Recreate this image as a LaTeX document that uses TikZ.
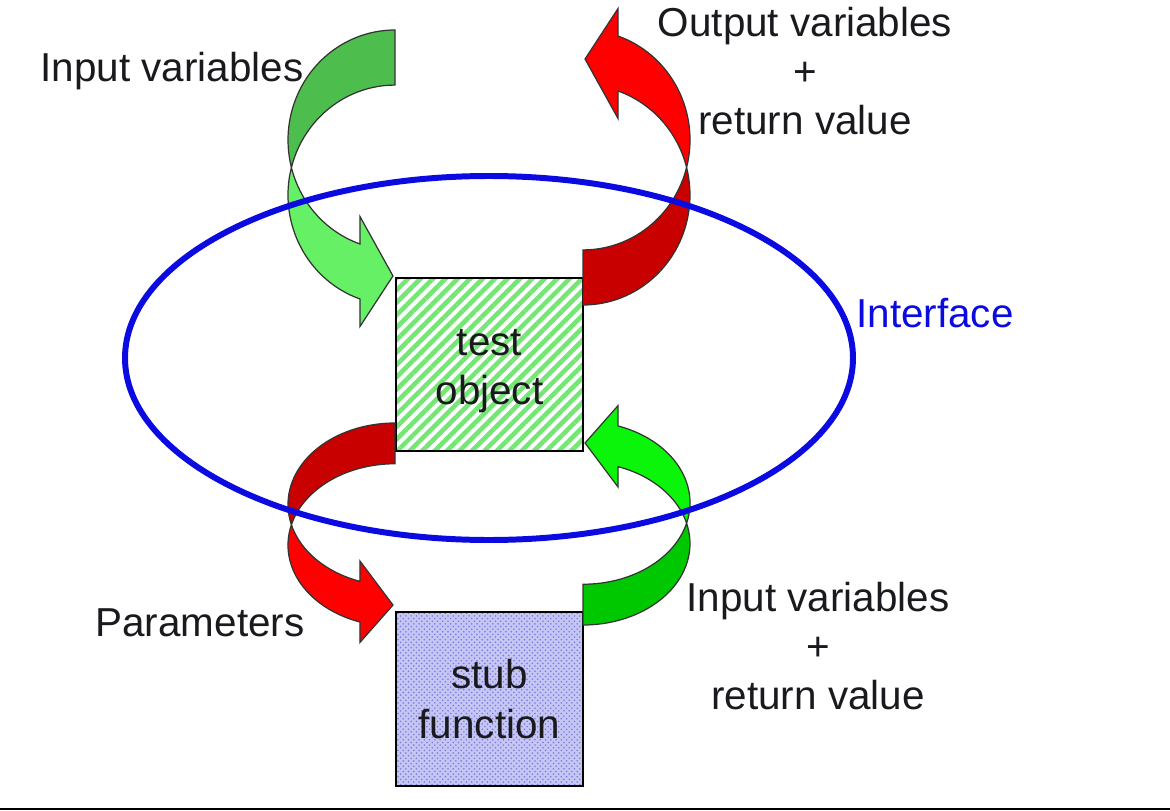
\documentclass[tikz,border=0pt]{standalone}
\usepackage{fontspec}
\setmainfont{Liberation Sans}
\usetikzlibrary{patterns, patterns.meta}

\definecolor{backgreen}{RGB}{77,190,77}
\definecolor{frontgreen}{RGB}{102,240,102}
\definecolor{darkgreen}{RGB}{0,200,0}
\definecolor{brightgreen}{RGB}{10,245,10}
\definecolor{darkred}{RGB}{200,0,0}
\definecolor{brightred}{RGB}{255,0,0}
\definecolor{stripegreen}{RGB}{115,230,115}
\definecolor{checkback}{RGB}{198,198,244}
\definecolor{checkblue}{RGB}{120,120,222}
\definecolor{ifblue}{RGB}{10,10,225}
\definecolor{txtgray}{RGB}{25,25,30}

% bent block arrow: tail (0,0)--(0,55), head pointing right
\newcommand{\bentarrow}[2]{%
  \draw[fill=#1, draw=black!80, line width=0.7pt]
    (0,0) arc[start angle=270, end angle=165.5, x radius=107, y radius=110]
    arc[start angle=194.5, end angle=270, x radius=107, y radius=110] -- cycle;
  \draw[fill=#2, draw=black!80, line width=0.7pt]
    (-103.6,137.5) arc[start angle=194.5, end angle=109.1, x radius=107, y radius=110]
    -- ++(0,27.5) -- ++(33,-50.5) -- ++(-33,-59.5) -- ++(0,27.5)
    arc[start angle=109.1, end angle=165.5, x radius=107, y radius=110] -- cycle;
}

\begin{document}
\begin{tikzpicture}[x=0.02cm, y=-0.02cm, every node/.style={font=\fontsize{23}{28}\selectfont, text=txtgray}]
  \useasboundingbox (0,0) rectangle (1170,811);

  % boxes
  \node[draw, line width=1.4pt, minimum width=3.74cm, minimum height=3.46cm, inner sep=0pt,
        preaction={fill=white}, pattern={Lines[angle=45,distance=5pt,line width=2.6pt]}, pattern color=stripegreen]
        (test) at (489.5,364.5) {};
  \node[align=center] (testtxt) at ([yshift=-0.14cm]test.center) {test\\object};
  \node[draw, line width=1.4pt, minimum width=3.74cm, minimum height=3.48cm, inner sep=0pt, align=center,
        preaction={fill=checkback}, pattern=crosshatch dots, pattern color=checkblue]
        (stub) at (489.5,699) {stub\\function};

  % curved arrows
  \begin{scope}[shift={(395,30)}]
    \bentarrow{backgreen}{frontgreen}
  \end{scope}
  \begin{scope}[shift={(583,305)}, rotate=180]
    \bentarrow{darkred}{brightred}
  \end{scope}
  \begin{scope}[shift={(395,423)}, yscale=0.74]
    \bentarrow{darkred}{brightred}
  \end{scope}
  \begin{scope}[shift={(583,625)}, rotate=180, yscale=0.74]
    \bentarrow{darkgreen}{brightgreen}
  \end{scope}

  % interface
  \draw[ifblue, line width=3.4pt] (489,358) ellipse [x radius=364, y radius=182];
  \node[text=ifblue] (iface) at (935,313) {Interface};

  % labels
  \node (invars) at (172,71) {Input variables};
  \node[align=center] (outvars) at (805,71) {Output variables\\+\\return value};
  \node (params) at (200,623) {Parameters};
  \node[align=center] (stubvars) at (818,646) {Input variables\\+\\return value};

  % bottom rule
  \draw[line width=1.2pt] (0,809) -- (1170,809);
\end{tikzpicture}
\end{document}
